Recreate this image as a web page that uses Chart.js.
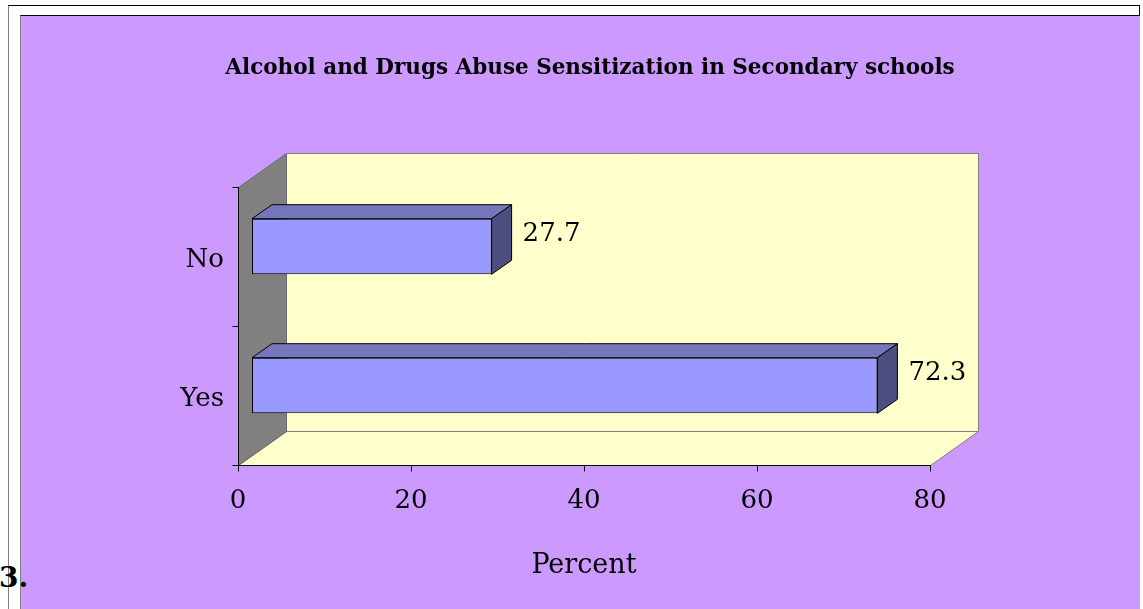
<!DOCTYPE html>
<html lang="en">
<head>
  <meta charset="UTF-8" />
  <title>Alcohol and Drugs Abuse Sensitization</title>
  <script src="https://cdn.jsdelivr.net/npm/chart.js"></script>
  <style>
    html, body {
      margin: 0;
      padding: 0;
      background: #fff;
      width: 1143px;
      height: 609px;
      overflow: hidden;
    }

    .page {
      position: absolute;
      left: 8px;
      top: 5px;
      width: 1130px;
      height: 640px;
      border-top: 1px solid #000;
      border-left: 1px solid #808080;
      border-right: 1px solid #000;
    }

    .panel {
      position: absolute;
      left: 20px;
      top: 15px;
      width: 1119px;
      height: 640px;
      background: #cc99ff;
      border-top: 1px solid #000;
      border-left: 1px solid #808080;
    }

    .section {
      position: absolute;
      left: -1px;
      top: 561px;
      font: bold 28px 'DejaVu Serif', serif;
      color: #000;
    }

    .chart-box {
      position: absolute;
      left: 0;
      top: 0;
      width: 1143px;
      height: 609px;
    }
  </style>
</head>
<body>
  <div class="page"></div>
  <div class="panel"></div>
  <div class="section">3.</div>
  <div class="chart-box"><canvas id="chart"></canvas></div>

  <script>
    const categories = ['No', 'Yes'];
    const percents = [27.7, 72.3];
    const xTicks = [0, 20, 40, 60, 80];
    const chartTitle = 'Alcohol and Drugs Abuse Sensitization in Secondary schools';
    const axisTitle = 'Percent';

    const SERIF = '"DejaVu Serif", serif';

    // bars sit in the middle of the box depth: front plane is a bit left/below,
    // back wall a bit right/above
    const FRONT = { dx: -14, dy: 10 };
    const BACK = { dx: 34, dy: -24 };
    const BAR_DEPTH = { dx: 20, dy: -14 };

    function poly(ctx, pts, fill, stroke) {
      ctx.beginPath();
      ctx.moveTo(pts[0][0], pts[0][1]);
      for (let i = 1; i < pts.length; i++) ctx.lineTo(pts[i][0], pts[i][1]);
      ctx.closePath();
      if (fill) { ctx.fillStyle = fill; ctx.fill(); }
      if (stroke) { ctx.strokeStyle = stroke; ctx.stroke(); }
    }

    function line(ctx, x1, y1, x2, y2) {
      ctx.beginPath();
      ctx.moveTo(x1, y1);
      ctx.lineTo(x2, y2);
      ctx.stroke();
    }

    const box3d = {
      id: 'box3d',
      beforeDatasetsDraw(chart) {
        const { ctx, chartArea: a, scales } = chart;
        const fl = Math.round(a.left + FRONT.dx) + 0.5, fr = Math.round(a.right + FRONT.dx) + 0.5;
        const ft = Math.round(a.top + FRONT.dy) + 0.5, fb = Math.round(a.bottom + FRONT.dy) + 0.5;
        const bl = Math.round(a.left + BACK.dx) + 0.5, br = Math.round(a.right + BACK.dx) + 0.5;
        const bt = Math.round(a.top + BACK.dy) + 0.5, bb = Math.round(a.bottom + BACK.dy) + 0.5;

        ctx.save();
        ctx.lineWidth = 1;

        // back wall
        poly(ctx, [[bl, bt], [br, bt], [br, bb], [bl, bb]], '#ffffcc', '#808080');
        // floor
        poly(ctx, [[fl, fb], [fr, fb], [br, bb], [bl, bb]], '#ffffcc', '#808080');
        // side wall
        poly(ctx, [[fl, ft], [bl, bt], [bl, bb], [fl, fb]], '#808080', '#6a6a6a');

        // axis lines
        ctx.strokeStyle = '#000';
        line(ctx, fl, ft, fl, fb);
        line(ctx, fl, fb, fr, fb);

        // category tick marks
        const band = (a.bottom - a.top) / categories.length;
        for (let i = 0; i <= categories.length; i++) {
          const y = Math.round(a.top + i * band + FRONT.dy) + 0.5;
          line(ctx, fl - 6, y, fl, y);
        }
        // value tick marks
        xTicks.forEach(v => {
          const x = Math.round(scales.x.getPixelForValue(v) + FRONT.dx) + 0.5;
          line(ctx, x, fb, x, fb + 6);
        });
        ctx.restore();
      },

      afterDatasetsDraw(chart) {
        const { ctx } = chart;
        const meta = chart.getDatasetMeta(0);
        ctx.save();
        ctx.lineWidth = 1;
        ctx.strokeStyle = '#000';
        meta.data.forEach((bar, i) => {
          const { x, y, base, height } = bar.getProps(['x', 'y', 'base', 'height'], true);
          const top = y - height / 2, bottom = y + height / 2;
          const dx = BAR_DEPTH.dx, dy = BAR_DEPTH.dy;
          // top face
          poly(ctx, [[base, top], [x, top], [x + dx, top + dy], [base + dx, top + dy]], '#7676bd', '#000');
          // end face
          poly(ctx, [[x, top], [x + dx, top + dy], [x + dx, bottom + dy], [x, bottom]], '#4d4d80', '#000');

          ctx.fillStyle = '#000';
          ctx.font = '26px ' + SERIF;
          ctx.textAlign = 'left';
          ctx.textBaseline = 'middle';
          ctx.fillText(String(percents[i]), x + dx + 11, y + dy + 2);
        });
        ctx.restore();
      },

      afterDraw(chart) {
        const { ctx, chartArea: a } = chart;
        ctx.save();
        ctx.fillStyle = '#000';
        ctx.textAlign = 'center';
        ctx.textBaseline = 'middle';
        ctx.font = 'bold 21.5px ' + SERIF;
        ctx.fillText(chartTitle, 590, 68);
        ctx.font = '27px ' + SERIF;
        ctx.fillText(axisTitle, (a.left + a.right) / 2 + FRONT.dx, 566);
        ctx.restore();
      }
    };

    new Chart(document.getElementById('chart'), {
      type: 'bar',
      data: {
        labels: categories,
        datasets: [{
          data: percents,
          backgroundColor: '#9999ff',
          borderColor: '#000',
          borderWidth: 1,
          borderSkipped: false,
          categoryPercentage: 0.4,
          barPercentage: 1
        }]
      },
      options: {
        indexAxis: 'y',
        responsive: true,
        maintainAspectRatio: false,
        animation: false,
        layout: {
          padding: { left: 152, right: 199, top: 177, bottom: 94 }
        },
        plugins: {
          legend: { display: false },
          tooltip: { enabled: false }
        },
        scales: {
          x: {
            min: 0,
            max: 80,
            afterBuildTicks: s => { s.ticks = xTicks.map(v => ({ value: v })); },
            afterFit: s => { s.height = 60; },
            grid: { display: false, drawTicks: false },
            border: { display: false },
            ticks: {
              color: '#000',
              font: { family: 'DejaVu Serif', size: 26 },
              padding: 31,
              labelOffset: FRONT.dx,
              maxRotation: 0
            }
          },
          y: {
            afterFit: s => { s.width = 100; },
            grid: { display: false, drawTicks: false },
            border: { display: false },
            ticks: {
              color: '#000',
              font: { family: 'DejaVu Serif', size: 26 },
              padding: 28,
              labelOffset: 14
            }
          }
        }
      },
      plugins: [box3d]
    });
  </script>
</body>
</html>
